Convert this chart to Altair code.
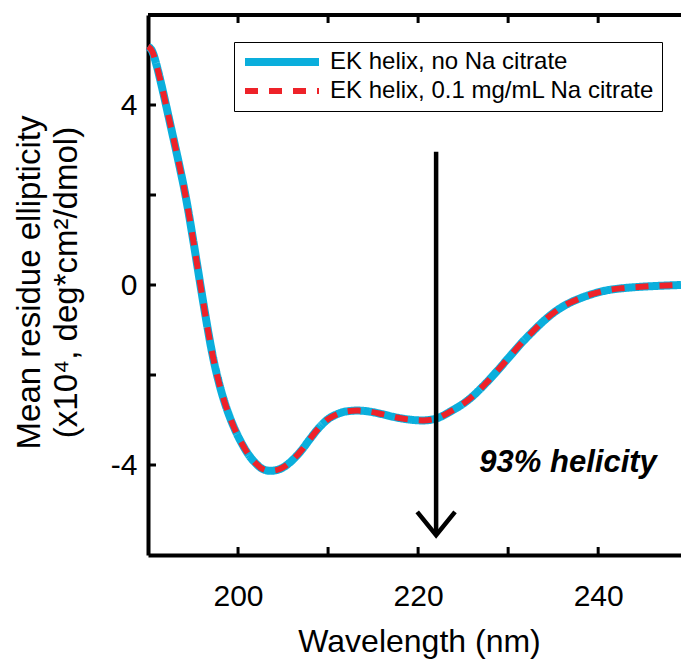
import altair as alt
import pandas as pd

# ---- data ----
wavelength = [190.0, 190.5, 191.0, 191.5, 192.0, 192.5, 193.0, 193.5, 194.0, 194.5,
              195.0, 195.5, 196.0, 196.5, 197.0, 197.5, 198.0, 198.5, 199.0, 199.5,
              200.0, 200.5, 201.0, 201.5, 202.0, 202.5, 203.0, 203.6, 204.5, 205.2,
              206.0, 207.1, 208.0, 209.0, 210.0, 211.0, 212.0, 213.3, 214.5, 216.0,
              217.5, 219.0, 220.5, 221.8, 222.8, 223.6, 224.7, 225.9, 227.2, 228.6,
              230.0, 231.3, 232.7, 234.0, 235.3, 236.7, 238.2, 239.7, 241.2, 242.8,
              244.7, 246.6, 249.2]
no_citrate = [5.30, 5.18, 4.85, 4.44, 4.00, 3.55, 3.10, 2.64, 2.16, 1.62,
              1.02, 0.40, -0.22, -0.82, -1.38, -1.86, -2.26, -2.60, -2.89, -3.14,
              -3.36, -3.55, -3.72, -3.86, -3.97, -4.06, -4.11, -4.13, -4.10, -4.03,
              -3.90, -3.66, -3.42, -3.17, -2.98, -2.87, -2.81, -2.79, -2.81, -2.87,
              -2.94, -2.99, -3.01, -2.98, -2.90, -2.81, -2.68, -2.50, -2.25, -1.95,
              -1.63, -1.33, -1.04, -0.79, -0.58, -0.41, -0.28, -0.18, -0.11, -0.07,
              -0.04, -0.02, 0.00]
with_citrate = [5.30, 5.18, 4.85, 4.44, 4.00, 3.55, 3.10, 2.64, 2.16, 1.62,
                1.02, 0.40, -0.22, -0.82, -1.38, -1.86, -2.26, -2.60, -2.89, -3.14,
                -3.36, -3.55, -3.72, -3.86, -3.97, -4.06, -4.11, -4.13, -4.10, -4.03,
                -3.90, -3.66, -3.42, -3.17, -2.98, -2.87, -2.81, -2.79, -2.81, -2.87,
                -2.94, -2.99, -3.01, -2.98, -2.90, -2.81, -2.68, -2.50, -2.25, -1.95,
                -1.63, -1.33, -1.04, -0.79, -0.58, -0.41, -0.28, -0.18, -0.11, -0.07,
                -0.04, -0.02, 0.00]
series_names = ["EK helix, no Na citrate", "EK helix, 0.1 mg/mL Na citrate"]
series_colors = ["#0AAEDC", "#EE2229"]

x_tick_values = [200, 210, 220, 230, 240]
x_label_values = [200, 220, 240]
y_tick_values = [-4, -2, 0, 2, 4]
y_label_values = [-4, 0, 4]

arrow_x = [222.0, 222.0]
arrow_y = [2.96, -5.52]
head_x = [219.9, 222.0, 224.1]
head_y = [-5.04, -5.56, -5.04]
note_text = ["93% helicity"]
note_x = [226.8]
note_y = [-4.15]

# ---- layout ----
W, H = 533, 540
FONT = "Liberation Sans"
xs = alt.Scale(domain=[190, 249.2], nice=False, zero=False)
ys = alt.Scale(domain=[-6, 6], nice=False, zero=False)

x_axis = alt.Axis(
    values=x_label_values, ticks=False, tickSize=0, grid=False,
    domainColor="black", domainWidth=4,
    labelFont=FONT, labelFontSize=30, labelColor="black",
    labelBaseline="alphabetic", labelPadding=50,
    title="Wavelength (nm)", titleFont=FONT, titleFontSize=32,
    titleFontWeight="normal", titleColor="black",
    titleAlign="center", titleBaseline="alphabetic", titleX=271, titleY=96)
y_axis = alt.Axis(
    values=y_label_values, ticks=False, tickSize=0, grid=False,
    domainColor="black", domainWidth=4,
    labelExpr="datum.value < 0 ? '-' + abs(datum.value) : '' + datum.value",
    labelFont=FONT, labelFontSize=30, labelColor="black", labelPadding=11,
    title=["Mean residue ellipticity", "(x10\u2074, deg*cm\u00b2/dmol)"],
    titleFont=FONT, titleFontSize=33, titleFontWeight="normal",
    titleColor="black", titleLineHeight=37, titleAngle=270,
    titleAlign="center", titleBaseline="middle", titleX=-119, titleY=267)

n = len(wavelength)
df = pd.DataFrame({
    "wl": wavelength + wavelength,
    "val": no_citrate + with_citrate,
    "series": [series_names[0]] * n + [series_names[1]] * n,
})

legend = alt.Legend(
    title=None, orient="none", legendX=86, legendY=27,
    strokeColor="black", fillColor="white", padding=7,
    symbolType="stroke", symbolSize=74 * 74, symbolStrokeWidth=6,
    clipHeight=26, rowPadding=3, labelOffset=7,
    labelFont=FONT, labelFontSize=24, labelColor="black", labelLimit=600,
)

lines = alt.Chart(df).mark_line(interpolate="monotone", strokeCap="butt").encode(
    x=alt.X("wl:Q", scale=xs, axis=x_axis),
    y=alt.Y("val:Q", scale=ys, axis=y_axis),
    color=alt.Color("series:N", sort=series_names,
                    scale=alt.Scale(domain=series_names, range=series_colors),
                    legend=legend),
    strokeDash=alt.StrokeDash("series:N", sort=series_names,
                              scale=alt.Scale(domain=series_names, range=[[1, 0], [13, 11]]),
                              legend=legend),
    strokeWidth=alt.StrokeWidth("series:N",
                                scale=alt.Scale(domain=series_names, range=[8, 6]),
                                legend=None),
    order=alt.Order("series:N", sort="descending"),
)

xt = pd.DataFrame({"t": x_tick_values})
yt = pd.DataFrame({"t": y_tick_values})
bottom_ticks = alt.Chart(xt).mark_rule(color="black", strokeWidth=3).encode(
    x=alt.X("t:Q", scale=xs, axis=x_axis), y=alt.value(H), y2=alt.value(H - 8))
top_ticks = alt.Chart(xt).mark_rule(color="black", strokeWidth=3).encode(
    x=alt.X("t:Q", scale=xs, axis=x_axis), y=alt.value(0), y2=alt.value(8))
left_ticks = alt.Chart(yt).mark_rule(color="black", strokeWidth=3).encode(
    y=alt.Y("t:Q", scale=ys, axis=y_axis), x=alt.value(0), x2=alt.value(8))
top_frame = alt.Chart(pd.DataFrame({"a": [0]})).mark_rule(color="black", strokeWidth=4).encode(
    x=alt.value(0), x2=alt.value(W), y=alt.value(0))

shaft = alt.Chart(pd.DataFrame({"x": arrow_x, "y": arrow_y})).mark_line(
    color="black", strokeWidth=4.5, strokeCap="butt").encode(
    x=alt.X("x:Q", scale=xs, axis=x_axis), y=alt.Y("y:Q", scale=ys, axis=y_axis))
head = alt.Chart(pd.DataFrame({"x": head_x, "y": head_y, "o": [0, 1, 2]})).mark_line(
    color="black", strokeWidth=4.5, strokeCap="butt", strokeJoin="miter").encode(
    x=alt.X("x:Q", scale=xs, axis=x_axis), y=alt.Y("y:Q", scale=ys, axis=y_axis),
    order="o:Q")
note = alt.Chart(pd.DataFrame({"x": note_x, "y": note_y, "t": note_text})).mark_text(
    font=FONT, fontSize=31, fontWeight="bold", fontStyle="italic",
    align="left", baseline="alphabetic", color="black").encode(
    x=alt.X("x:Q", scale=xs, axis=x_axis), y=alt.Y("y:Q", scale=ys, axis=y_axis), text="t:N")

chart = alt.layer(
    lines, shaft, head, note, bottom_ticks, top_ticks, left_ticks, top_frame
).properties(
    width=W, height=H,
    autosize=alt.AutoSizeParams(type="none"),
    padding={"left": 148, "top": 15, "right": 0, "bottom": 106},
    background="white",
).configure_view(stroke=None)

chart.save("out.html", embed_options={"renderer": "svg", "actions": False})
